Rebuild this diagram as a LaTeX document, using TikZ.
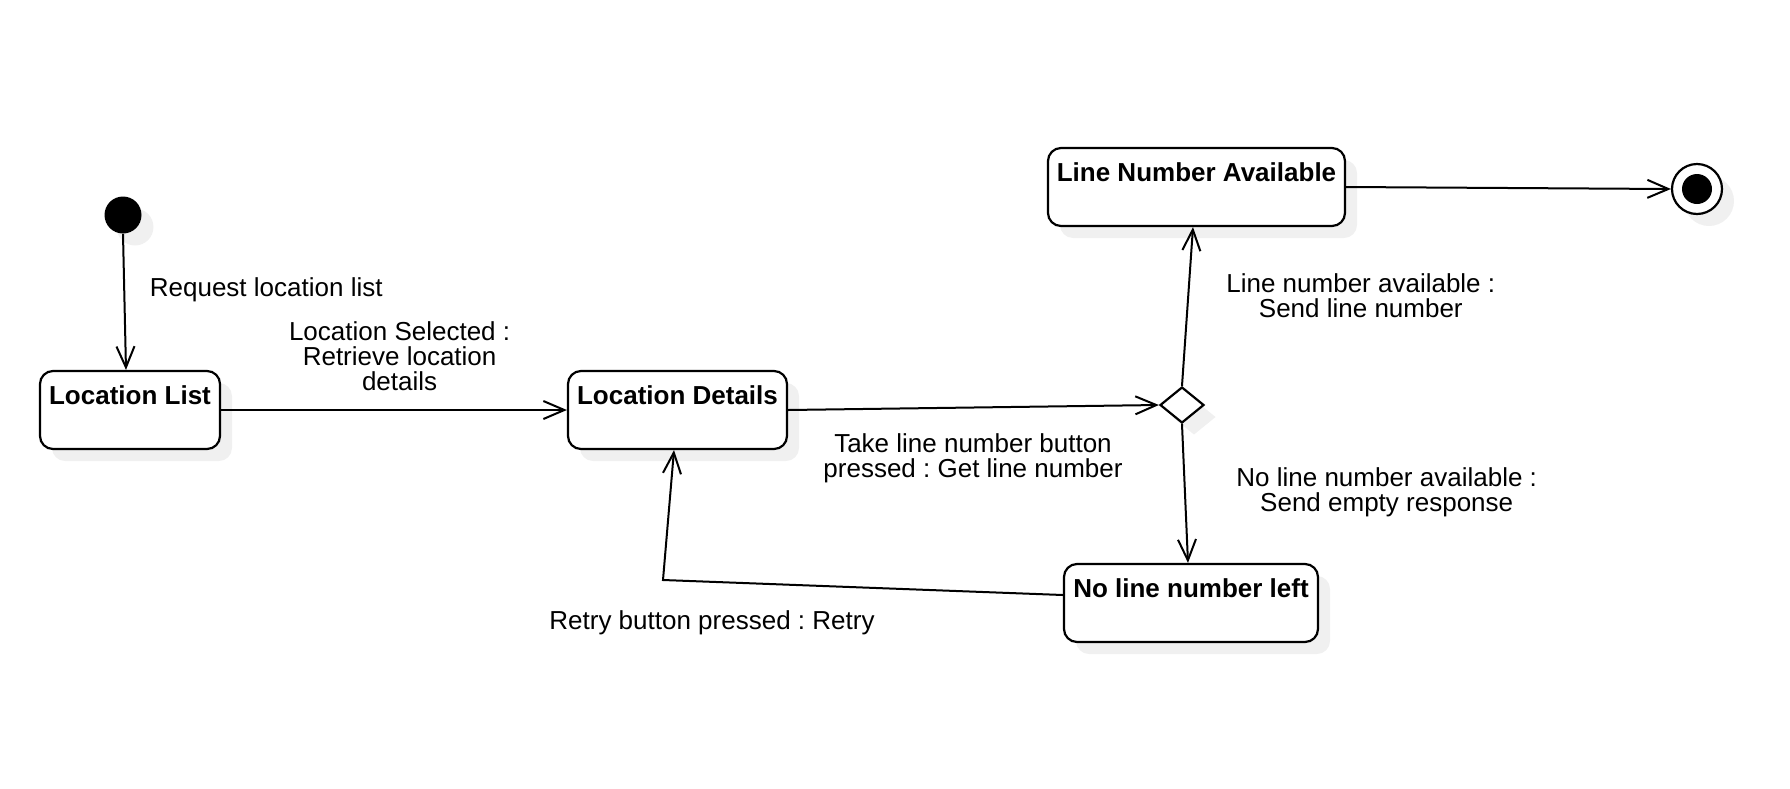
\documentclass[tikz,border=0pt]{standalone}
\usepackage{fontspec}
\setmainfont{Liberation Sans}
\usetikzlibrary{arrows.meta,shapes.geometric,shadows}
\frenchspacing
\begin{document}
\begin{tikzpicture}[x=0.5pt,y=-0.5pt,
  lbl/.style={font=\fontsize{13}{12.5}\selectfont, inner sep=0pt, align=center},
  shad/.style={drop shadow={shadow xshift=6pt, shadow yshift=-6pt, fill=black!6, opacity=1}},
  statebox/.style={draw, line width=1.1pt, rounded corners=6.5pt, fill=white, shad,
    minimum height=39pt, inner sep=0pt, text height=9.6pt, text depth=15.6pt,
    font=\fontsize{13}{12.5}\selectfont\bfseries},
  conn/.style={line width=1pt, -{Straight Barb[length=10.5pt,width=9pt,line width=1pt]}},
  ]
\useasboundingbox (0,0) rectangle (1790,788);

% states
\node[circle, fill=black, minimum size=18.5pt, inner sep=0pt, shad] (init) at (123,215) {};
\node[statebox, minimum width=90pt] (ll) at (130,410) {Location List};
\node[statebox, minimum width=109.5pt] (ld) at (677.5,410) {Location Details};
\node[statebox, minimum width=148.5pt] (lna) at (1196.5,187) {Line Number Available};
\node[statebox, minimum width=127pt] (nll) at (1191,603) {No line number left};
\node[diamond, draw, line width=1.1pt, fill=white, minimum width=22pt, minimum height=18pt, inner sep=0pt, shad] (dec) at (1182,405) {};
\node[circle, draw, line width=1.1pt, fill=white, minimum size=25pt, inner sep=0pt, shad,
  path picture={\fill[black] (path picture bounding box.center) circle (7.5pt);}] (fin) at (1697,189) {};

\coordinate (rc) at (663,580);

% connectors
\draw[conn] (init.south) -- ([xshift=-2pt]ll.north);
\draw[conn] (ll.east) -- (ld.west);
\draw[conn] (ld.east) -- (dec.west);
\draw[conn] (dec.north) -- ([xshift=-1.75pt]lna.south);
\draw[conn] (dec.south) -- ([xshift=-1.5pt]nll.north);
\draw[conn] ([yshift=4pt]nll.west) -- (rc) -- ([xshift=-1.75pt]ld.south);
\draw[conn] (lna.east) -- (fin.west);

% labels
\node[lbl, anchor=base west] (l1) at (149.5,296) {Request location list};
\node[lbl, anchor=north] (l2) at (399.6,321.5) {Location Selected :\\Retrieve location\\details};
\node[lbl, anchor=north] (l3) at (973,433) {Take line number button\\pressed : Get line number};
\node[lbl, anchor=north] (l4) at (1360.8,273) {Line number available :\\Send line number};
\node[lbl, anchor=north] (l5) at (1386.7,467) {No line number available :\\Send empty response};
\node[lbl, anchor=base west] (l6) at (549,629) {Retry button pressed : Retry};
\end{tikzpicture}
\end{document}
